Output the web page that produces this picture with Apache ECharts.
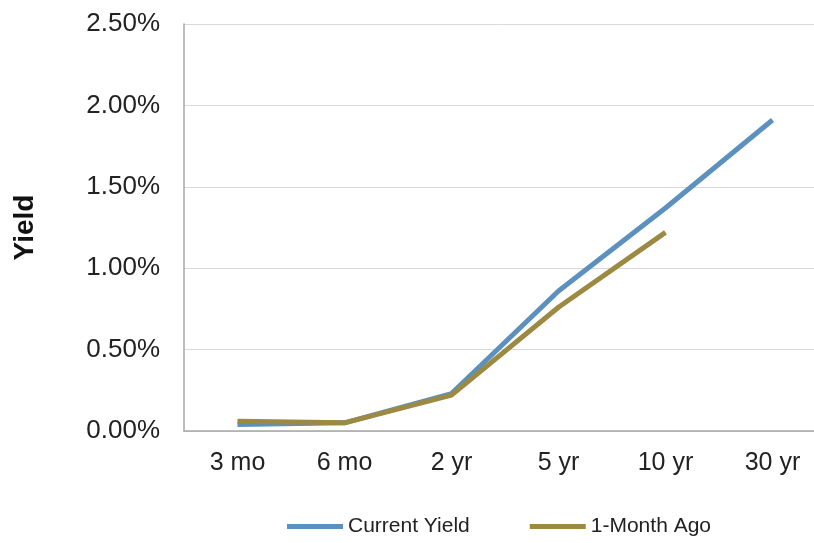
<!DOCTYPE html>
<html><head><meta charset="utf-8">
<script src="https://cdn.jsdelivr.net/npm/echarts@6/dist/echarts.min.js"></script>
<style>html,body{margin:0;padding:0;background:#fff}#c{width:814px;height:543px}</style>
</head><body><div id="c"></div>
<script>
const categories = ['3 mo', '6 mo', '2 yr', '5 yr', '10 yr', '30 yr'];
const currentYield = [0.04, 0.05, 0.23, 0.86, 1.37, 1.91];
const monthAgo = [0.06, 0.05, 0.22, 0.76, 1.22, null];
const seriesNames = ['Current Yield', '1-Month Ago'];

const font = '"Liberation Sans", Arial, sans-serif';
const chart = echarts.init(document.getElementById('c'));
chart.setOption({
  animation: false,
  backgroundColor: '#fff',
  grid: { left: 184, top: 24, width: 642, bottom: 112, containLabel: false, outerBoundsMode: 'none' },
  legend: {
    left: 287, top: 516, padding: 0,
    itemWidth: 56, itemHeight: 5, itemGap: 60,
    icon: 'rect',
    textStyle: { fontFamily: font, fontSize: 21, color: '#222', padding: [0,0,0,0] },
    data: seriesNames
  },
  xAxis: {
    type: 'category', data: categories, boundaryGap: true,
    axisLine: { lineStyle: { color: '#a6a6a6', width: 1.5 } },
    axisTick: { show: false },
    axisLabel: { fontFamily: font, fontSize: 25, color: '#222', margin: 20 }
  },
  yAxis: {
    type: 'value', min: 0, max: 2.5, interval: 0.5,
    name: 'Yield', nameLocation: 'middle', nameGap: 145,
    nameTextStyle: { fontFamily: font, fontSize: 28, fontWeight: 'bold', color: '#111' },
    axisLine: { show: true, lineStyle: { color: '#a6a6a6', width: 1.5 } },
    axisTick: { show: false },
    splitLine: { lineStyle: { color: '#d9d9d9', width: 1 } },
    axisLabel: { fontFamily: font, fontSize: 26, color: '#222', margin: 24,
      formatter: v => v.toFixed(2) + '%' }
  },
  series: [
    { name: seriesNames[0], type: 'line', data: currentYield, showSymbol: false,
      lineStyle: { color: '#5b90bf', width: 5 }, itemStyle: { color: '#5b90bf' } },
    { name: seriesNames[1], type: 'line', data: monthAgo, showSymbol: false,
      lineStyle: { color: '#9c8a42', width: 5 }, itemStyle: { color: '#9c8a42' } }
  ]
});
</script></body></html>
